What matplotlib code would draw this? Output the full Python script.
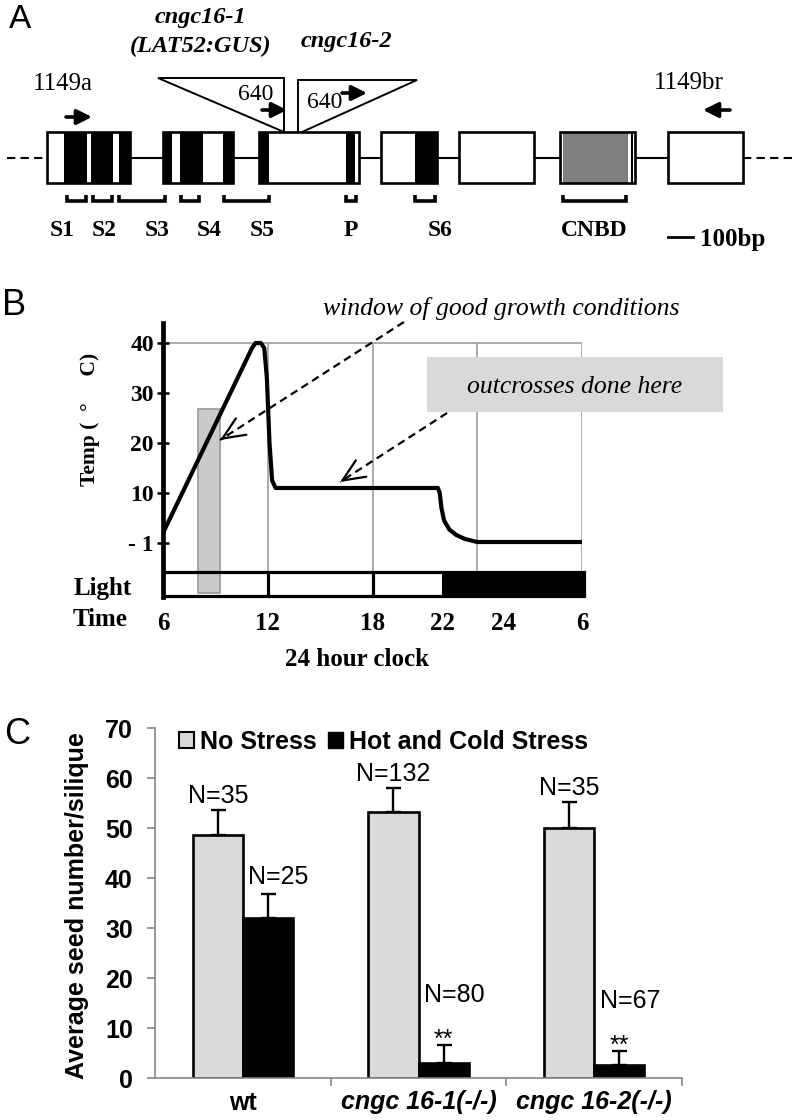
import numpy as np
import matplotlib
matplotlib.use("Agg")
import matplotlib.pyplot as plt
from matplotlib.patches import Rectangle, Polygon, Patch

W, H = 797, 1120
SERIF = "Liberation Serif"
SANS = "Liberation Sans"

# ---- A: cngc16 gene model (positions along the drawn gene map) ----
exons = [(47, 130), (163, 233), (259, 359), (381, 437), (459, 534), (560, 635), (668, 743)]
tm_segments = [(64, 87), (91, 113), (119, 130), (163, 172), (180, 203), (223, 233),
               (259, 269), (346, 355), (415, 437)]
cnbd_segment = (563, 628)
domain_names = ["S1", "S2", "S3", "S4", "S5", "P", "S6", "CNBD"]
domain_spans = [(67, 86), (93, 112), (119, 165), (181, 199), (224, 269), (346, 356),
                (415, 435), (563, 626)]

# ---- B: daily temperature regime ----
curve_hour = [6.0, 11.1, 11.3, 11.6, 11.8, 11.95, 12.1, 12.25, 12.45, 12.9,
              21.75, 21.85, 21.95, 22.1, 22.4, 22.8, 23.3, 24.0, 30.0]
curve_temp = [2.0, 39.0, 40.0, 40.0, 39.0, 33.0, 20.0, 12.5, 11.0, 11.0,
              11.0, 10.0, 7.0, 4.5, 2.7, 1.6, 0.8, 0.2, 0.2]
temp_ticks = [0, 10, 20, 30, 40]
temp_labels = ["- 1", "10", "20", "30", "40"]
clock_labels = ["6", "12", "18", "22", "24", "6"]
clock_pos = [6, 12, 18, 22, 25.5, 30]
grid_hours = [12, 18, 24, 30]
light_on = (6, 22)
dark = (22, 30)
window_hours = (8.0, 9.25)
window_top = 26.8

# ---- C: seed set ----
genotypes = ["wt", "cngc 16-1(-/-)", "cngc 16-2(-/-)"]
no_stress = [48.6, 53.2, 50.0]
no_stress_err = [5.0, 4.8, 5.2]
stress = [32.0, 3.1, 2.7]
stress_err = [4.8, 3.6, 2.8]
n_no_stress = [35, 132, 35]
n_stress = [25, 80, 67]
signif = ["", "**", "**"]

fig = plt.figure(figsize=(W / 100, H / 100), dpi=100)


def rect_px(l, t, r, b):
    return [l / W, 1 - b / H, (r - l) / W, (b - t) / H]


def ftext(x, y, s, **kw):
    fig.text(x / W, 1 - y / H, s, ha=kw.pop("ha", "center"), va=kw.pop("va", "center"), **kw)


# ===================== A =====================
ax_a = fig.add_axes([0, 1 - 260 / H, 1, 260 / H])
ax_a.set_xlim(0, W)
ax_a.set_ylim(260, 0)
ax_a.axis("off")

yc = 158
ax_a.plot([7, exons[0][0]], [yc, yc], color="black", lw=1.5, ls=(0, (4, 2.5)))
ax_a.plot([exons[-1][1], 795], [yc, yc], color="black", lw=1.5, ls=(0, (4, 2.5)))
ax_a.plot([exons[0][1], exons[-1][0]], [yc, yc], color="black", lw=1.5, zorder=1)
for a, b in exons:
    ax_a.add_patch(Rectangle((a, 132), b - a, 51, fc="white", ec="none", zorder=3))
for a, b in tm_segments:
    ax_a.add_patch(Rectangle((a, 132), b - a, 51, fc="black", ec="none", zorder=4))
ax_a.add_patch(Rectangle((cnbd_segment[0], 132), cnbd_segment[1] - cnbd_segment[0], 51,
                         fc="#808080", ec="none", zorder=4))
ax_a.vlines([632.5], 132, 183, color="black", lw=1.5, zorder=4)
for a, b in exons:
    ax_a.add_patch(Rectangle((a, 132), b - a, 51, fc="none", ec="black", lw=1.9, zorder=5))

# insertion triangles
ax_a.add_patch(Polygon([(158, 78), (284, 78), (284, 132)], closed=True,
                       fc="white", ec="black", lw=1.4, zorder=2))
ax_a.add_patch(Polygon([(298, 132), (298, 80), (417, 80), (302, 132)], closed=True,
                       fc="white", ec="black", lw=1.4, zorder=2))

# domain brackets
for (a, b) in domain_spans:
    ax_a.plot([a, a, b, b], [195, 201, 201, 195], color="black", lw=2.6,
              solid_joinstyle="miter", solid_capstyle="butt")
label_x = [62, 104, 157, 209, 262, 351, 440, 594]
for name, lx in zip(domain_names, label_x):
    ax_a.text(lx, 230, name, ha="center", va="center", family=SERIF,
              weight="bold", size=17)

ax_a.plot([668, 693], [237, 237], color="black", lw=2)
ax_a.text(700, 239, "100bp", ha="left", va="center", family=SERIF, weight="bold", size=18)

arrow_kw = dict(arrowstyle="-|>,head_length=0.9,head_width=0.45", lw=2.6,
                color="black", mutation_scale=10, shrinkA=0, shrinkB=0)
ax_a.annotate("", xy=(92, 117), xytext=(66, 117), arrowprops=arrow_kw)
ax_a.annotate("", xy=(287, 110), xytext=(262, 110), arrowprops=arrow_kw)
ax_a.annotate("", xy=(367, 93), xytext=(342, 93), arrowprops=arrow_kw)
ax_a.annotate("", xy=(703, 110), xytext=(730, 110), arrowprops=arrow_kw)

ax_a.text(63, 84, "1149a", ha="center", va="center", family=SERIF, size=18)
ax_a.text(689, 83, "1149br", ha="center", va="center", family=SERIF, size=18)
ax_a.text(256, 95, "640", ha="center", va="center", family=SERIF, size=17)
ax_a.text(325, 102, "640", ha="center", va="center", family=SERIF, size=17)
ax_a.text(200, 17, "cngc16-1", ha="center", va="center", family=SERIF,
          weight="bold", style="italic", size=17.5)
ax_a.text(201, 46, "(LAT52:GUS)", ha="center", va="center", family=SERIF,
          weight="bold", style="italic", size=17.5)
ax_a.text(346, 42, "cngc16-2", ha="center", va="center", family=SERIF,
          weight="bold", style="italic", size=17.5)

# ===================== B =====================
ax_b = fig.add_axes(rect_px(163, 323, 582, 597))
ax_b.set_xlim(6, 30)
ax_b.set_ylim(-10.8, 44)
for s in ["top", "right", "bottom"]:
    ax_b.spines[s].set_visible(False)
ax_b.spines["left"].set_linewidth(3.4)
ax_b.spines["left"].set_color("black")

bar_lo, bar_hi = -10.5, -5.8
grid_c = "#a6a6a6"
ax_b.vlines(grid_hours, bar_hi, 40, color=grid_c, lw=1.3, zorder=1)
ax_b.hlines(40, 6, 30, color=grid_c, lw=1.3, zorder=1)

ax_b.add_patch(Rectangle((light_on[0], bar_lo), light_on[1] - light_on[0], bar_hi - bar_lo,
                         fc="white", ec="none", zorder=2, clip_on=False))
ax_b.add_patch(Rectangle((dark[0], bar_lo), dark[1] - dark[0] + 0.1, bar_hi - bar_lo,
                         fc="black", ec="none", zorder=2, clip_on=False))
ax_b.add_patch(Rectangle((window_hours[0], -10.0), window_hours[1] - window_hours[0],
                         window_top + 10.0, fc="#cacaca", ec="#9a9a9a", lw=1.2,
                         zorder=3))
ax_b.add_patch(Rectangle((light_on[0], bar_lo), dark[1] - light_on[0] + 0.1, bar_hi - bar_lo,
                         fc="none", ec="black", lw=2.3, zorder=4, clip_on=False))
ax_b.vlines([12, 18], bar_lo, bar_hi, color="black", lw=2.3, zorder=4)

ax_b.plot(curve_hour, curve_temp, color="black", lw=3.0, zorder=5,
          solid_capstyle="butt", clip_on=False)

ax_b.set_yticks(temp_ticks, temp_labels)
ax_b.tick_params(axis="y", direction="inout", length=9, width=1.8, pad=2, labelsize=17)
ax_b.set_xticks(clock_pos, clock_labels)
ax_b.tick_params(axis="x", length=0, pad=11, labelsize=18)
for lbl in ax_b.get_yticklabels() + ax_b.get_xticklabels():
    lbl.set_fontfamily(SERIF)
    lbl.set_fontweight("bold")

# outcross box + annotations
ax_b.add_patch(Rectangle((21.12, 26.2), 16.95, 11.0, fc="#d9d9d9", ec="none",
                         zorder=6, clip_on=False))
ax_b.text(29.6, 31.2, "outcrosses done here", ha="center", va="center",
          family=SERIF, style="italic", size=18.5, zorder=7, clip_on=False)

dash = (0, (3.5, 2.2))
for (x0, y0), (x1, y1), back in [((19.8, 44.2), (9.27, 20.6), (2.5, 1.6)),
                                 ((22.27, 26.0), (16.14, 12.2), (2.5, 1.6))]:
    ax_b.plot([x0, x1], [y0, y1], color="black", lw=1.6, ls=dash, zorder=6, clip_on=False)
    ax_b.annotate("", xy=(x1, y1), xytext=back, textcoords="offset points",
                  arrowprops=dict(arrowstyle="->,head_length=1.6,head_width=0.7",
                                  lw=1.6, color="black", mutation_scale=10,
                                  shrinkA=0, shrinkB=0), zorder=6)

ftext(501, 308, "window of good growth conditions", family=SERIF, style="italic", size=18.5)
ftext(90, 419, "Temp (  °     C)", family=SERIF, weight="bold", size=15.5, rotation=90)
ftext(103, 588, "Light", family=SERIF, weight="bold", size=18)
ftext(100, 620, "Time", family=SERIF, weight="bold", size=18)
ftext(357, 660, "24 hour clock", family=SERIF, weight="bold", size=18)

# ===================== C =====================
ax_c = fig.add_axes(rect_px(155, 728, 682, 1078))
x = np.arange(len(genotypes))
w = 0.285
ebar = dict(ecolor="black", elinewidth=1.7, capsize=5.4, capthick=1.7)
zeros = np.zeros(len(x))
ax_c.bar(x - w / 2, no_stress, w, color="#d9d9d9", edgecolor="black", lw=1.9,
         yerr=[zeros, no_stress_err], error_kw=ebar)
ax_c.bar(x + w / 2, stress, w, color="black", edgecolor="black", lw=1.9,
         yerr=[zeros, stress_err], error_kw=ebar)
ax_c.set_xlim(-0.5, 2.5)
ax_c.set_ylim(0, 70)

axis_c = "#858585"
for s in ["top", "right"]:
    ax_c.spines[s].set_visible(False)
for s in ["left", "bottom"]:
    ax_c.spines[s].set_color(axis_c)
    ax_c.spines[s].set_linewidth(1.2)

ax_c.set_yticks(range(0, 71, 10))
ax_c.tick_params(axis="y", direction="out", length=6, width=1.2, color=axis_c,
                 pad=10, labelsize=18)
ax_c.set_xticks(x, genotypes)
ax_c.set_xticks([0.5, 1.5, 2.5], minor=True)
ax_c.tick_params(axis="x", which="major", length=0, pad=9, labelsize=18)
ax_c.tick_params(axis="x", which="minor", direction="out", length=6, width=1.2, color=axis_c)
for lbl in ax_c.get_yticklabels() + ax_c.get_xticklabels():
    lbl.set_fontfamily(SANS)
    lbl.set_fontweight("bold")
for lbl in ax_c.get_xticklabels()[1:]:
    lbl.set_fontstyle("italic")

for i in range(len(x)):
    ax_c.text(x[i] - w / 2, no_stress[i] + no_stress_err[i] + 2.8, f"N={n_no_stress[i]}",
              ha="center", va="center", family=SANS, size=18)
    top = stress[i] + stress_err[i]
    ax_c.text(x[i] + w / 2 + 0.06, top + (10.0 if signif[i] else 3.5), f"N={n_stress[i]}",
              ha="center", va="center", family=SANS, size=18)
    if signif[i]:
        ax_c.text(x[i] + w / 2, top - 0.5, signif[i], ha="center", va="baseline",
                  family=SANS, size=18)

ax_c.legend(handles=[Patch(fc="#d9d9d9", ec="black", lw=1.5), Patch(fc="black", ec="black")],
            labels=["No Stress", "Hot and Cold Stress"], ncol=2, loc="center left",
            bbox_to_anchor=(0.0455, 0.96), frameon=False,
            prop=dict(family=SANS, weight="bold", size=18),
            handlelength=0.6, handleheight=0.6, handletextpad=0.25,
            columnspacing=0.45, borderpad=0, borderaxespad=0)

ftext(77, 906, "Average seed number/silique", family=SANS, weight="bold", size=18,
      rotation=90)

ftext(20, 20, "A", family=SANS, size=24)
ftext(14, 306, "B", family=SANS, size=26)
ftext(17, 735, "C", family=SANS, size=26)

fig.savefig("out.png", dpi=100)
